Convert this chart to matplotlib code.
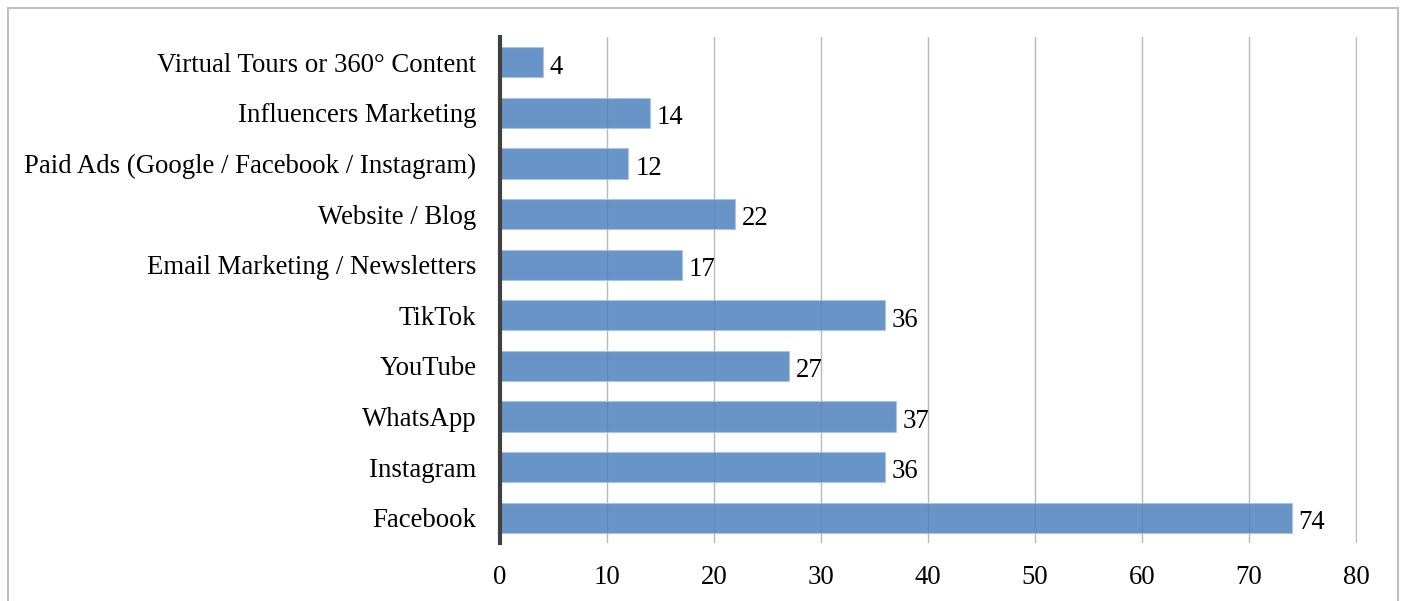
import matplotlib
matplotlib.use('Agg')
import matplotlib.pyplot as plt
from matplotlib.patches import Rectangle

# --- data ---
channels = ['Facebook', 'Instagram', 'WhatsApp', 'YouTube', 'TikTok',
            'Email Marketing / Newsletters', 'Website / Blog',
            'Paid Ads (Google / Facebook / Instagram)',
            'Influencers Marketing', 'Virtual Tours or 360° Content']
counts = [74, 36, 37, 27, 36, 17, 22, 12, 14, 4]
x_ticks = [0, 10, 20, 30, 40, 50, 60, 70, 80]

plt.rcParams['font.family'] = ['Liberation Serif', 'DejaVu Serif']
FS = 19.3

fig = plt.figure(figsize=(14.03, 6.01), dpi=100)
ax = fig.add_axes([500 / 1403, 1 - 543 / 601, 857 / 1403, 506 / 601])

# outer border like the source frame
fig.patches.append(Rectangle((8 / 1403, -0.01), 1390 / 1403, 1 - 8 / 601 + 0.01,
                             transform=fig.transFigure, fill=False,
                             edgecolor='#BFBFBF', linewidth=1.5))

ypos = list(range(len(channels)))
ax.barh(ypos, counts, height=0.6, color='#4F81BD', alpha=0.85,
        edgecolor='#A9C4E4', linewidth=0.8, zorder=3)

for y, v in zip(ypos, counts):
    ax.annotate(str(v), (v, y), xytext=(5, -3.5), textcoords='offset points',
                va='center', ha='left', fontsize=FS, color='black')

ax.set_xlim(0, 80.1)
ax.set_ylim(-0.5, len(channels) - 0.5)
ax.set_xticks(x_ticks)
ax.set_yticks(ypos)
ax.set_yticklabels(channels)
ax.tick_params(axis='both', length=0, labelsize=FS)
ax.tick_params(axis='x', pad=16)
ax.tick_params(axis='y', pad=17)

ax.grid(axis='x', color='#B8B8B8', linewidth=1, zorder=0)
ax.set_axisbelow(True)
for s in ['top', 'right', 'bottom']:
    ax.spines[s].set_visible(False)
ax.spines['left'].set_color('#404040')
ax.spines['left'].set_linewidth(3)
ax.spines['left'].set_zorder(4)

fig.savefig('out.png', dpi=100)
plt.close(fig)
